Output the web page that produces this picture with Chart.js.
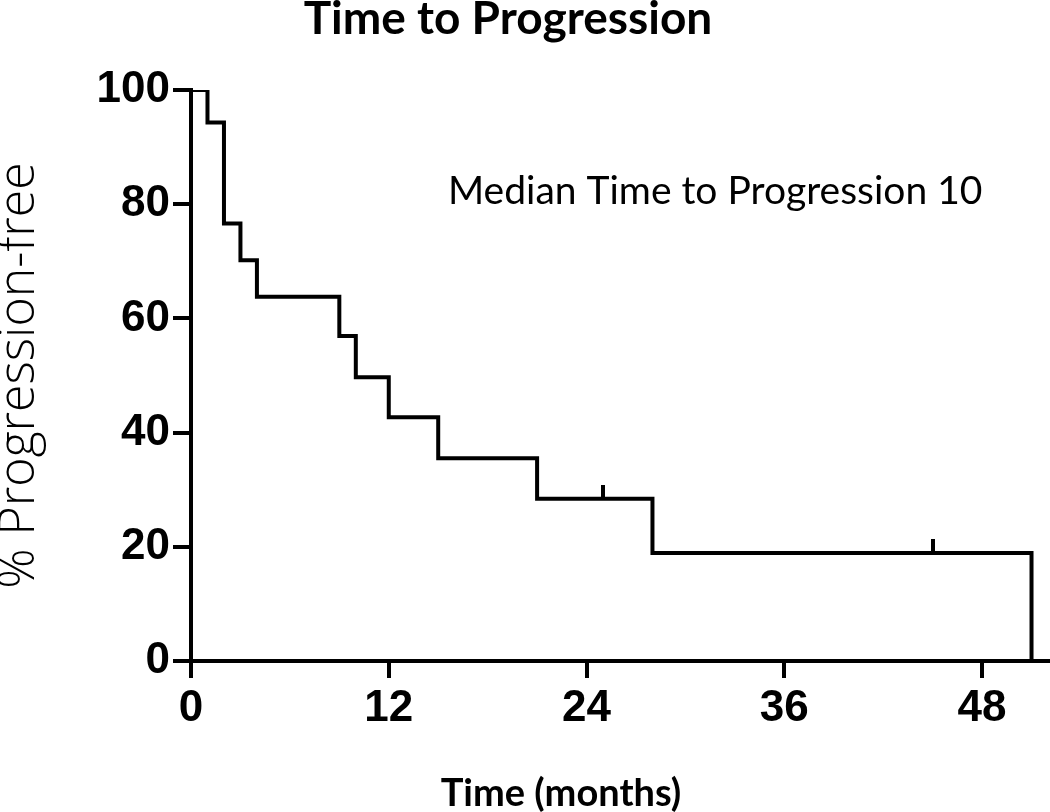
<!DOCTYPE html>
<html>
<head>
<meta charset="utf-8">
<script src="https://cdn.jsdelivr.net/npm/chart.js@4.4.1/dist/chart.umd.min.js"></script>
<style>
  html, body { margin: 0; padding: 0; background: #fff; }
</style>
</head>
<body>
<canvas id="chart" width="1050" height="812"></canvas>
<script>
// Kaplan-Meier steps
var times = [0, 1, 2, 3, 4, 9, 10, 12, 15, 21, 28, 51];
var survival = [100, 94.3, 76.6, 70.2, 63.8, 56.9, 49.7, 42.7, 35.5, 28.4, 18.9, 0];
// censored patients (small vertical marks)
var censorTimes = [25, 45];
var censorLevels = [28.4, 18.9];
var xTicks = [0, 12, 24, 36, 48];
var yTicks = [0, 20, 40, 60, 80, 100];

var chartTitle = 'Time to Progression';
var xTitle = 'Time (months)';
var yTitle = '% Progression-free';
var note = 'Median Time to Progression 10';

var tickFont = { family: '"Liberation Sans", Arial, sans-serif', size: 44, weight: 'bold' };

// little tick mark that sits on top of the curve
function censorMark() {
    var c = document.createElement('canvas');
    c.width = 4;
    c.height = 28;
    var g = c.getContext('2d');
    g.fillStyle = '#000';
    g.fillRect(0, 0, 4, 15);
    return c;
}

var texts = {
    id: 'texts',
    afterDraw: function (chart) {
        var ctx = chart.ctx;
        var area = chart.chartArea;
        ctx.save();
        ctx.fillStyle = '#000';
        ctx.textBaseline = 'alphabetic';
        ctx.textAlign = 'center';
        ctx.font = 'bold 46px Lato, "Open Sans", sans-serif';
        ctx.fillText(chartTitle, 508, 34);
        ctx.font = 'bold 38px Lato, "Open Sans", sans-serif';
        ctx.fillText(xTitle, 561, 806);
        ctx.textAlign = 'left';
        ctx.font = '39px Lato, "Open Sans", sans-serif';
        ctx.fillText(note, area.left + 257, area.top + 114);
        ctx.restore();
    }
};

var ctx = document.getElementById('chart').getContext('2d');
var chart = new Chart(ctx, {
    type: 'line',
    data: {
        datasets: [{
            data: times.map(function (t, i) { return { x: t, y: survival[i] }; }),
            stepped: true,
            borderColor: '#000',
            borderWidth: 4,
            pointRadius: 0,
            fill: false
        }, {
            data: censorTimes.map(function (t, i) { return { x: t, y: censorLevels[i] }; }),
            showLine: false,
            pointStyle: censorMark(),
            pointRadius: 10,
            clip: false
        }]
    },
    options: {
        responsive: false,
        animation: false,
        layout: { autoPadding: false, padding: { left: 0, top: 90, right: 2, bottom: 0 } },
        plugins: {
            legend: { display: false },
            tooltip: { enabled: false }
        },
        scales: {
            x: {
                type: 'linear',
                min: 0,
                max: 52,
                afterBuildTicks: function (s) { s.ticks = xTicks.map(function (v) { return { value: v }; }); },
                afterFit: function (s) { s.height = 151; },
                grid: { drawOnChartArea: false, color: '#000', lineWidth: 4, tickLength: 17 },
                border: { color: '#000', width: 4 },
                ticks: { color: '#000', font: tickFont, padding: 4, maxRotation: 0 }
            },
            y: {
                min: 0,
                max: 100,
                afterBuildTicks: function (s) { s.ticks = yTicks.map(function (v) { return { value: v }; }); },
                afterFit: function (s) { s.width = 191; },
                grid: { drawOnChartArea: false, color: '#000', lineWidth: 4, tickLength: 18 },
                border: { color: '#000', width: 4 },
                ticks: { color: '#000', font: tickFont, padding: 3 },
                title: {
                    display: true,
                    text: yTitle,
                    color: '#000',
                    padding: 0,
                    font: { family: '"Open Sans", Lato, sans-serif', size: 50, weight: '300', lineHeight: 0.8 }
                }
            }
        }
    },
    plugins: [texts]
});
</script>
</body>
</html>
